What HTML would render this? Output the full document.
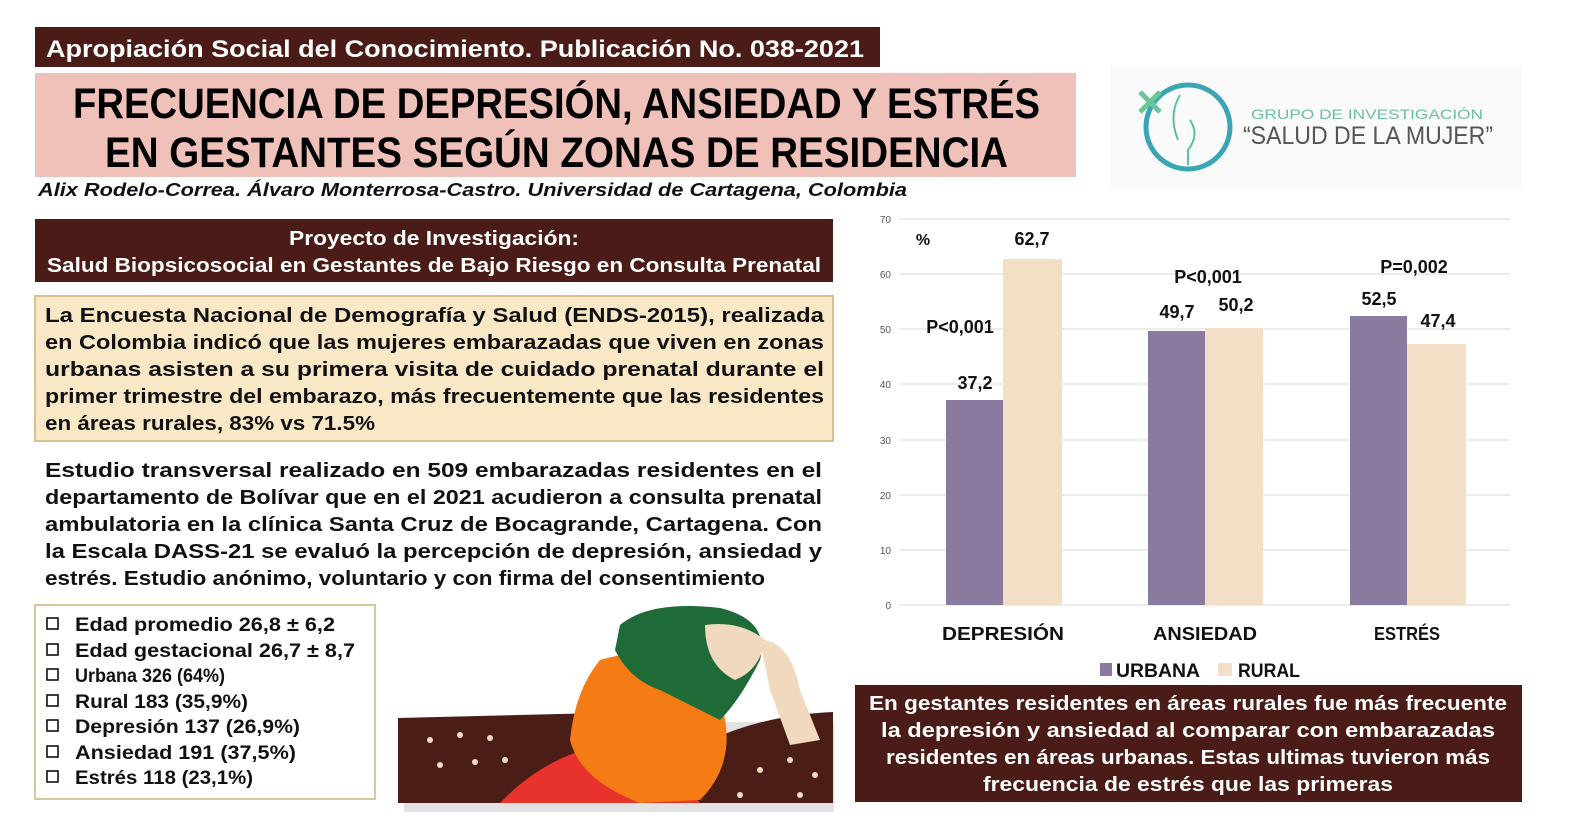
<!DOCTYPE html>
<html><head><meta charset="utf-8"><style>html,body{margin:0;padding:0;background:#fff;overflow:hidden;width:1580px;height:839px}svg{display:block}</style></head>
<body>
<svg width="1580" height="839" viewBox="0 0 1580 839" xmlns="http://www.w3.org/2000/svg" font-family="Liberation Sans, sans-serif" font-weight="bold">
<rect width="1580" height="839" fill="#fff"/>
<rect x="35" y="27" width="845" height="40" fill="#4b1c17"/>
<text x="46" y="57" font-size="24" fill="#fff" textLength="818" lengthAdjust="spacingAndGlyphs">Apropiación Social del Conocimiento. Publicación No. 038-2021</text>
<rect x="35" y="73" width="1041" height="104" fill="#efc1b8"/>
<text x="73" y="118" font-size="43" fill="#000" textLength="967" lengthAdjust="spacingAndGlyphs">FRECUENCIA DE DEPRESIÓN, ANSIEDAD Y ESTRÉS</text>
<text x="105" y="167" font-size="43" fill="#000" textLength="903" lengthAdjust="spacingAndGlyphs">EN GESTANTES SEGÚN ZONAS DE RESIDENCIA</text>
<text x="38" y="196" font-size="18" font-style="italic" fill="#111" textLength="869" lengthAdjust="spacingAndGlyphs">Alix Rodelo-Correa. Álvaro Monterrosa-Castro. Universidad de Cartagena, Colombia</text>
<rect x="1110" y="65" width="412" height="125" fill="#fafafa"/>
<circle cx="1188" cy="127" r="42" fill="none" stroke="#3aa6b5" stroke-width="5"/>
<path d="M1140 92 L1160 112 M1160 92 L1140 112" stroke="#6cc59a" stroke-width="5"/>
<path d="M1180 95 Q1168 115 1178 140 M1190 120 Q1200 135 1188 150 L1188 165" stroke="#5bbfa8" stroke-width="2" fill="none"/>
<text x="1251" y="119" font-size="14" font-weight="normal" fill="#6bbfa4" textLength="232" lengthAdjust="spacingAndGlyphs">GRUPO DE INVESTIGACIÓN</text>
<text x="1243" y="144" font-size="25" font-weight="normal" fill="#555" textLength="250" lengthAdjust="spacingAndGlyphs">“SALUD DE LA MUJER”</text>
<rect x="35" y="219" width="798" height="63" fill="#4b1c17"/>
<text x="434" y="245" font-size="20" fill="#fff" text-anchor="middle" textLength="290" lengthAdjust="spacingAndGlyphs">Proyecto de Investigación:</text>
<text x="47" y="272" font-size="20" fill="#fff" textLength="774" lengthAdjust="spacingAndGlyphs">Salud Biopsicosocial en Gestantes de Bajo Riesgo en Consulta Prenatal</text>
<rect x="35" y="296" width="798" height="145" fill="#f8e8c6" stroke="#d8c08f" stroke-width="2"/>
<g font-size="20" fill="#111">
<text x="45" y="322" textLength="779" lengthAdjust="spacingAndGlyphs">La Encuesta Nacional de Demografía y Salud (ENDS-2015), realizada</text>
<text x="45" y="349" textLength="779" lengthAdjust="spacingAndGlyphs">en Colombia indicó que las mujeres embarazadas que viven en zonas</text>
<text x="45" y="376" textLength="779" lengthAdjust="spacingAndGlyphs">urbanas asisten a su primera visita de cuidado prenatal durante el</text>
<text x="45" y="403" textLength="779" lengthAdjust="spacingAndGlyphs">primer trimestre del embarazo, más frecuentemente que las residentes</text>
<text x="45" y="430" textLength="330" lengthAdjust="spacingAndGlyphs">en áreas rurales, 83% vs 71.5%</text>
</g>
<g font-size="20" fill="#111">
<text x="45" y="477" textLength="777" lengthAdjust="spacingAndGlyphs">Estudio transversal realizado en 509 embarazadas residentes en el</text>
<text x="45" y="504" textLength="777" lengthAdjust="spacingAndGlyphs">departamento de Bolívar que en el 2021 acudieron a consulta prenatal</text>
<text x="45" y="531" textLength="777" lengthAdjust="spacingAndGlyphs">ambulatoria en la clínica Santa Cruz de Bocagrande, Cartagena. Con</text>
<text x="45" y="558" textLength="777" lengthAdjust="spacingAndGlyphs">la Escala DASS-21 se evaluó la percepción de depresión, ansiedad y</text>
<text x="45" y="585" textLength="720" lengthAdjust="spacingAndGlyphs">estrés. Estudio anónimo, voluntario y con firma del consentimiento</text>
</g>
<rect x="35" y="605" width="340" height="194" fill="#fff" stroke="#d8c8a0" stroke-width="2"/>
<g font-size="19" fill="#111">
<g fill="none" stroke="#111" stroke-width="1.6">
<rect x="47" y="618" width="11" height="11"/><rect x="47" y="644" width="11" height="11"/><rect x="47" y="669" width="11" height="11"/><rect x="47" y="695" width="11" height="11"/><rect x="47" y="720" width="11" height="11"/><rect x="47" y="746" width="11" height="11"/><rect x="47" y="771" width="11" height="11"/>
</g>
<text x="75" y="631" textLength="260" lengthAdjust="spacingAndGlyphs">Edad promedio 26,8 ± 6,2</text>
<text x="75" y="657" textLength="280" lengthAdjust="spacingAndGlyphs">Edad gestacional 26,7 ± 8,7</text>
<text x="75" y="682" textLength="150" lengthAdjust="spacingAndGlyphs">Urbana 326 (64%)</text>
<text x="75" y="708" textLength="173" lengthAdjust="spacingAndGlyphs">Rural 183 (35,9%)</text>
<text x="75" y="733" textLength="225" lengthAdjust="spacingAndGlyphs">Depresión 137 (26,9%)</text>
<text x="75" y="759" textLength="221" lengthAdjust="spacingAndGlyphs">Ansiedad 191 (37,5%)</text>
<text x="75" y="784" textLength="178" lengthAdjust="spacingAndGlyphs">Estrés 118 (23,1%)</text>
</g>
<g>
<rect x="400" y="716" width="430" height="90" fill="#8a8a8a" opacity="0.25" transform="translate(4,6)"/>
<path d="M398 718 L640 712 L650 803 L398 803 Z" fill="#4a1e17"/>
<path d="M700 745 Q760 715 833 712 L833 803 L690 803 Z" fill="#4a1e17"/>
<path d="M500 803 Q560 740 650 740 L700 803 Z" fill="#e8332c"/>
<path d="M600 660 Q630 650 680 655 L720 700 Q740 760 700 800 L640 803 Q580 780 570 740 Q575 690 600 660 Z" fill="#f57c14"/>
<path d="M620 625 Q650 600 720 608 Q770 620 760 660 Q740 700 720 720 Q680 700 660 690 Q630 680 615 650 Z" fill="#1f6b38"/>
<path d="M705 625 Q740 620 765 640 Q760 670 735 680 Q705 665 705 625 Z" fill="#f0d9bf"/>
<path d="M760 640 Q790 640 800 690 L820 740 L790 745 L770 690 Z" fill="#f0d9bf"/>
<g fill="#f3dcc2"><circle cx="430" cy="740" r="3"/><circle cx="460" cy="735" r="3"/><circle cx="490" cy="738" r="3"/><circle cx="440" cy="765" r="3"/><circle cx="475" cy="762" r="3"/><circle cx="505" cy="760" r="3"/><circle cx="760" cy="770" r="3"/><circle cx="790" cy="760" r="3"/><circle cx="815" cy="775" r="3"/><circle cx="740" cy="795" r="3"/><circle cx="800" cy="795" r="3"/></g>
</g>
<g stroke="#d9d9d9" stroke-width="1">
<line x1="899" y1="219" x2="1510" y2="219"/><line x1="899" y1="274" x2="1510" y2="274"/><line x1="899" y1="329" x2="1510" y2="329"/><line x1="899" y1="384" x2="1510" y2="384"/><line x1="899" y1="440" x2="1510" y2="440"/><line x1="899" y1="495" x2="1510" y2="495"/><line x1="899" y1="550" x2="1510" y2="550"/><line x1="899" y1="605" x2="1510" y2="605"/>
</g>
<g font-size="10" font-weight="normal" fill="#555" text-anchor="end">
<text x="891" y="223">70</text><text x="891" y="278">60</text><text x="891" y="333">50</text><text x="891" y="388">40</text><text x="891" y="444">30</text><text x="891" y="499">20</text><text x="891" y="554">10</text><text x="891" y="609">0</text>
</g>
<g>
<rect x="946" y="400" width="57" height="205" fill="#8a7aa0"/>
<rect x="1003" y="259" width="59" height="346" fill="#f3dfc5"/>
<rect x="1148" y="331" width="57" height="274" fill="#8a7aa0"/>
<rect x="1205" y="328" width="58" height="277" fill="#f3dfc5"/>
<rect x="1350" y="316" width="57" height="289" fill="#8a7aa0"/>
<rect x="1407" y="344" width="59" height="261" fill="#f3dfc5"/>
</g>
<g font-size="18" fill="#111" text-anchor="middle">
<text x="923" y="245" font-size="16">%</text>
<text x="1032" y="245">62,7</text>
<text x="975" y="389">37,2</text>
<text x="960" y="333">P&lt;0,001</text>
<text x="1208" y="283">P&lt;0,001</text>
<text x="1177" y="318">49,7</text>
<text x="1236" y="311">50,2</text>
<text x="1414" y="273">P=0,002</text>
<text x="1379" y="305">52,5</text>
<text x="1438" y="327">47,4</text>
<text x="1003" y="640" textLength="122" lengthAdjust="spacingAndGlyphs">DEPRESIÓN</text>
<text x="1205" y="640" textLength="104" lengthAdjust="spacingAndGlyphs">ANSIEDAD</text>
<text x="1407" y="640" textLength="66" lengthAdjust="spacingAndGlyphs">ESTRÉS</text>
</g>
<rect x="1100" y="663" width="12" height="13" fill="#8a7aa0"/>
<text x="1116" y="677" font-size="19" fill="#111" textLength="84" lengthAdjust="spacingAndGlyphs">URBANA</text>
<rect x="1218" y="663" width="14" height="13" fill="#f3dfc5"/>
<text x="1238" y="677" font-size="19" fill="#111" textLength="62" lengthAdjust="spacingAndGlyphs">RURAL</text>
<rect x="855" y="685" width="667" height="117" fill="#4b1c17"/>
<g font-size="20" fill="#fff" text-anchor="middle">
<text x="1188" y="710" textLength="638" lengthAdjust="spacingAndGlyphs">En gestantes residentes en áreas rurales fue más frecuente</text>
<text x="1188" y="737" textLength="614" lengthAdjust="spacingAndGlyphs">la depresión y ansiedad al comparar con embarazadas</text>
<text x="1188" y="764" textLength="604" lengthAdjust="spacingAndGlyphs">residentes en áreas urbanas. Estas ultimas tuvieron más</text>
<text x="1188" y="791" textLength="410" lengthAdjust="spacingAndGlyphs">frecuencia de estrés que las primeras</text>
</g>
</svg>
</body></html>
